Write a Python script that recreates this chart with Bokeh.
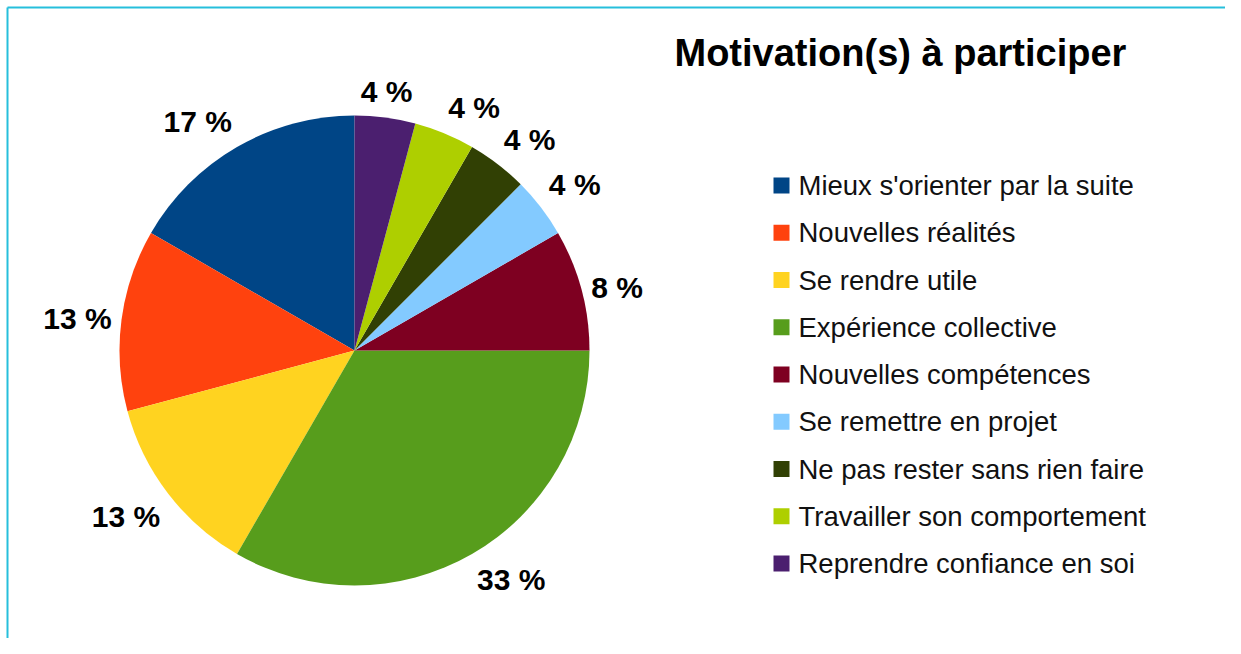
import math
from bokeh.plotting import figure
from bokeh.models import ColumnDataSource
from bokeh.core.properties import value
from bokeh.embed import file_html
from bokeh.resources import INLINE

# ---- data ----
categories = [
    "Mieux s'orienter par la suite",
    "Nouvelles réalités",
    "Se rendre utile",
    "Expérience collective",
    "Nouvelles compétences",
    "Se remettre en projet",
    "Ne pas rester sans rien faire",
    "Travailler son comportement",
    "Reprendre confiance en soi",
]
counts = [4, 3, 3, 8, 2, 1, 1, 1, 1]
colors = ["#004586", "#ff420e", "#ffd320", "#579d1c", "#7e0021",
          "#83caff", "#314004", "#aecf00", "#4b1f6f"]
title_text = "Motivation(s) à participer"

# ---- layout constants ----
W, H = 1225, 638
CX, CY, R = 354, 288, 235
FONT = "Liberation Sans"

total = sum(counts)
starts, ends, mids = [], [], []
a = math.pi / 2
for c in counts:
    span = 2 * math.pi * c / total
    starts.append(a)
    ends.append(a + span)
    mids.append(a + span / 2)
    a += span

pie_src = ColumnDataSource(dict(start=starts, end=ends, color=colors, cat=categories))

gap = 10
lx, ly, lt, la, lb = [], [], [], [], []
for c, m in zip(counts, mids):
    cs, sn = math.cos(m), math.sin(m)
    lx.append(CX + (R + gap) * cs)
    ly.append(CY + (R + gap) * sn)
    lt.append(f"{int(100 * c / total + 0.5)} %")
    la.append("center" if abs(cs) < 0.2 else ("left" if cs > 0 else "right"))
    lb.append("middle" if abs(sn) < 0.3 else ("bottom" if sn > 0 else "top"))
lab_src = ColumnDataSource(dict(x=lx, y=ly, text=lt, align=la, base=lb))

p = figure(width=W, height=H, x_range=(0, W), y_range=(0, H),
           output_backend="svg", toolbar_location=None, tools="",
           min_border=0, outline_line_color=None)
p.axis.visible = False
p.grid.visible = False
p.background_fill_color = "white"

# border (top and left edges of the frame)
p.line(x=[7, 7], y=[0, H - 7], line_color="#26bfdc", line_width=2)
p.line(x=[7, W], y=[H - 7, H - 7], line_color="#26bfdc", line_width=2)

p.wedge(x=CX, y=CY, radius=R, start_angle="start", end_angle="end",
        fill_color="color", line_color=None, source=pie_src)

p.text(x="x", y="y", text="text", text_align="align", text_baseline="base",
       text_font=value(FONT), text_font_style="bold", text_font_size="30px",
       text_color="black", source=lab_src)

# title
p.text(x=[674], y=[586], text=[title_text], text_align="left", text_baseline="middle",
       text_font=value(FONT), text_font_style="bold", text_font_size="38px",
       text_color="black")

# legend
LEG_X, LEG_Y0, LEG_DY = 781, 453, 47.25
leg_y = [LEG_Y0 - i * LEG_DY for i in range(len(categories))]
leg_src = ColumnDataSource(dict(x=[LEG_X] * len(categories), tx=[LEG_X + 17] * len(categories),
                                y=leg_y, color=colors, cat=categories))
p.scatter(x="x", y="y", marker="square", size=16, fill_color="color",
          line_color=None, source=leg_src)
p.text(x="tx", y="y", text="cat", text_align="left", text_baseline="middle",
       text_font=value(FONT), text_font_size="27.5px", text_color="#111111",
       source=leg_src)

open("out.html", "w").write(file_html(p, INLINE))
